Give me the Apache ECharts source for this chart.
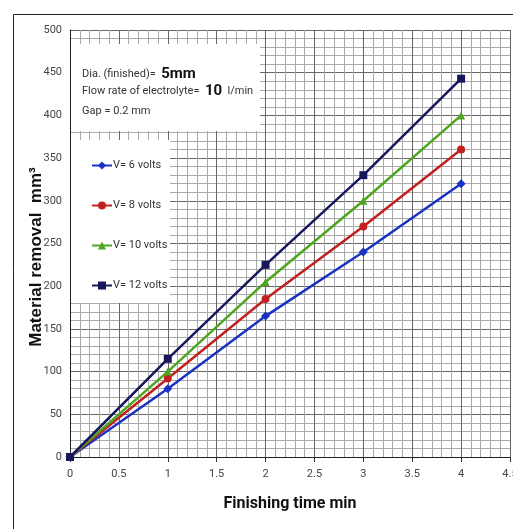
<!DOCTYPE html>
<html>
<head>
<meta charset="utf-8">
<script src="https://cdn.jsdelivr.net/npm/echarts@6/dist/echarts.min.js"></script>
<style>
html,body{margin:0;padding:0;background:#fff;}
#chart{width:513px;height:529px;}
</style>
</head>
<body>
<div id="chart"></div>
<script>
const times = [0, 1, 2, 3, 4];
const seriesNames = ['V= 6 volts', 'V= 8 volts', 'V= 10 volts', 'V= 12 volts'];
const v6 = [0, 80, 165, 240, 320];
const v8 = [0, 92, 185, 270, 360];
const v10 = [0, 100, 205, 300, 400];
const v12 = [0, 115, 225, 330, 443];
const xTicks = ['0', '0.5', '1', '1.5', '2', '2.5', '3', '3.5', '4', '4.5'];
const yTicks = ['0', '50', '100', '150', '200', '250', '300', '350', '400', '450', '500'];

const colors = ['#1a32c2', '#c21f1f', '#4da61f', '#17175e'];
const symbols = ['diamond', 'circle', 'triangle', 'rect'];
const values = [v6, v8, v10, v12];

const narrow2 = 'Roboto, sans-serif';

const chart = echarts.init(document.getElementById('chart'));
chart.setOption({
  animation: false,
  backgroundColor: '#fff',
  grid: { left: 70, top: 30, right: 3, bottom: 72, containLabel: false, outerBoundsMode: 'none' },
  xAxis: {
    type: 'value', min: 0, max: 4.5, interval: 0.5,
    name: 'Finishing time min', nameLocation: 'middle', nameGap: 39,
    nameTextStyle: { fontFamily: narrow2, fontWeight: 'bold', fontSize: 16, color: '#111' },
    axisLine: { show: true, lineStyle: { color: '#222', width: 1 } },
    axisTick: { show: true, length: 5, lineStyle: { color: '#333' } },
    axisLabel: { fontFamily: narrow2, fontSize: 11, color: '#444', margin: 12,
      formatter: (v) => xTicks[Math.round(v / 0.5)] },
    splitLine: { show: true, lineStyle: { color: '#666', width: 1 } },
    minorTick: { show: false, splitNumber: 5 },
    minorSplitLine: { show: true, lineStyle: { color: '#aaa', width: 1 } }
  },
  yAxis: {
    type: 'value', min: 0, max: 500, interval: 50,
    axisLine: { show: true, lineStyle: { color: '#222', width: 1 } },
    axisTick: { show: false },
    axisLabel: { fontFamily: narrow2, fontSize: 11, color: '#444', margin: 8,
      formatter: (v) => yTicks[Math.round(v / 50)] },
    splitLine: { show: true, lineStyle: { color: '#666', width: 1 } },
    minorTick: { show: false, splitNumber: 5 },
    minorSplitLine: { show: true, lineStyle: { color: '#aaa', width: 1 } }
  },
  legend: {
    orient: 'vertical', left: 86, top: 155, itemGap: 29, itemWidth: 20, itemHeight: 10,
    data: seriesNames, z: 30,
    textStyle: { fontFamily: narrow2, fontSize: 11, color: '#333', padding: [0, 0, 0, -4] }
  },
  graphic: [
    { type: 'rect', z: 10, shape: { x: 71, y: 44, width: 189, height: 87 }, style: { fill: '#fff' } },
    { type: 'rect', z: 10, shape: { x: 71, y: 140, width: 99, height: 163 }, style: { fill: '#fff' } },
    { type: 'polyline', z: 10, shape: { points: [[13.5, 529], [13.5, 14.5], [513, 14.5]] },
      style: { stroke: '#222', lineWidth: 1, fill: null } },
    { type: 'text', z: 11, x: 36, y: 257, rotation: Math.PI / 2, style: {
        text: 'Material removal  mm³', fontFamily: 'Liberation Sans, Arial, sans-serif',
        fontWeight: 'bold', fontSize: 17, fill: '#111', align: 'center', verticalAlign: 'middle' } },
    { type: 'text', z: 11, left: 82, top: 67, style: {
        rich: { n: { fontFamily: narrow2, fontSize: 11, fill: '#333' },
                b: { fontFamily: narrow2, fontSize: 15, fontWeight: 'bold', fill: '#111' } },
        text: '{n|Dia. (finished)=  }{b|5mm}' } },
    { type: 'text', z: 11, left: 82, top: 84, style: {
        rich: { n: { fontFamily: narrow2, fontSize: 11, fill: '#333' },
                b: { fontFamily: narrow2, fontSize: 15, fontWeight: 'bold', fill: '#111' } },
        text: '{n|Flow rate of electrolyte=  }{b|10}{n|  l/min}' } },
    { type: 'text', z: 11, left: 82, top: 106, style: {
        fontFamily: narrow2, fontSize: 11, fill: '#333', text: 'Gap = 0.2 mm' } }
  ],
  series: values.map((vals, i) => ({
    name: seriesNames[i], type: 'line', z: 20,
    data: times.map((t, j) => [t, vals[j]]),
    symbol: symbols[i], symbolSize: i === 0 ? 9 : 8,
    lineStyle: { color: colors[i], width: 2.5 },
    itemStyle: { color: colors[i] }
  }))
});
</script>
</body>
</html>
